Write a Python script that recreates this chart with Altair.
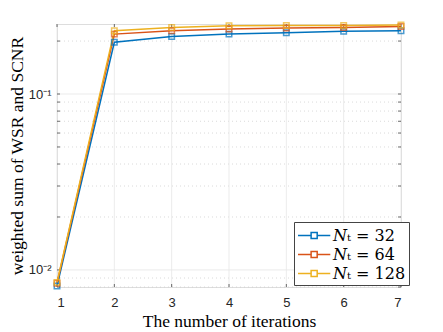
import altair as alt
import pandas as pd

iterations = [1, 2, 3, 4, 5, 6, 7]
series_names = ["𝑁ₜ = 32", "𝑁ₜ = 64", "𝑁ₜ = 128"]
nt32 = [0.0081, 0.197, 0.212, 0.219, 0.223, 0.227, 0.229]
nt64 = [0.0084, 0.219, 0.229, 0.234, 0.237, 0.239, 0.242]
nt128 = [0.0085, 0.229, 0.239, 0.244, 0.245, 0.245, 0.247]
colors = ["#0072BD", "#D95319", "#EDB120"]
minor_y = [0.008, 0.009, 0.02, 0.03, 0.04, 0.05, 0.06, 0.07, 0.08, 0.09, 0.2]
major_y = [0.01, 0.1]

rows = []
for name, vals in zip(series_names, [nt32, nt64, nt128]):
    for it, v in zip(iterations, vals):
        rows.append({"iter": it, "value": v, "series": name})
df = pd.DataFrame(rows)

W, H = 344, 263
xs = alt.Scale(domain=[1, 7], nice=False, zero=False)
ys = alt.Scale(type="log", domain=[0.008, 0.25], nice=False)
color = alt.Color("series:N", scale=alt.Scale(domain=series_names, range=colors),
                  legend=alt.Legend(
                      title=None, orient="none", legendX=237, legendY=198,
                      symbolType="M-1,0H0.38M1.02,0H2.4M0.38,-0.32H1.02V0.32H0.38Z",
                      symbolSize=361, symbolStrokeWidth=1.5, symbolFillColor="transparent",
                      labelFont="DejaVu Serif", labelFontSize=16, labelColor="#000",
                      strokeColor="#444", fillColor="white", padding=3,
                      rowPadding=0, labelOffset=15, cornerRadius=0))

minor_df = pd.DataFrame({"y": minor_y})
major_df = pd.DataFrame({"y": major_y})
xgrid_df = pd.DataFrame({"x": iterations})

minor_grid = alt.Chart(minor_df).mark_rule(color="#d0d0d0", strokeDash=[1, 3], strokeWidth=0.8).encode(
    y=alt.Y("y:Q", scale=ys))
major_grid = alt.Chart(major_df).mark_rule(color="#e6e6e6", strokeWidth=0.8).encode(
    y=alt.Y("y:Q", scale=ys))
x_grid = alt.Chart(xgrid_df).mark_rule(color="#e6e6e6", strokeWidth=0.8).encode(
    x=alt.X("x:Q", scale=xs))

# inward ticks
ytick_l = alt.Chart(pd.concat([minor_df, major_df])).mark_rule(color="#444", strokeWidth=0.8).encode(
    y=alt.Y("y:Q", scale=ys), x=alt.value(0), x2=alt.value(3))
ytick_r = alt.Chart(pd.concat([minor_df, major_df])).mark_rule(color="#444", strokeWidth=0.8).encode(
    y=alt.Y("y:Q", scale=ys), x=alt.value(W), x2=alt.value(W - 3))
xtick_b = alt.Chart(xgrid_df).mark_rule(color="#444", strokeWidth=0.8).encode(
    x=alt.X("x:Q", scale=xs), y=alt.value(H), y2=alt.value(H - 3))
xtick_t = alt.Chart(xgrid_df).mark_rule(color="#444", strokeWidth=0.8).encode(
    x=alt.X("x:Q", scale=xs), y=alt.value(0), y2=alt.value(3))

lines = alt.Chart(df).mark_line(strokeWidth=1.5).encode(
    x=alt.X("iter:Q", scale=xs,
            axis=alt.Axis(title="The number of iterations", values=iterations, format="d",
                          grid=False, domain=False, ticks=False, labelPadding=9,
                          titleFont="Liberation Serif", titleFontSize=17.5, titleFontWeight="normal",
                          titlePadding=3, labelFont="Liberation Sans", labelFontSize=13,
                          labelColor="#262626", titleColor="#000")),
    y=alt.Y("value:Q", scale=ys,
            axis=alt.Axis(title="weighted sum of WSR and SCNR", values=major_y,
                          labelExpr="datum.value < 0.05 ? '10⁻²' : '10⁻¹'",
                          grid=False, domain=False, ticks=False, labelPadding=6,
                          titleFont="Liberation Serif", titleFontSize=17.5, titleFontWeight="normal",
                          titlePadding=2, labelFont="Liberation Sans", labelFontSize=13,
                          labelColor="#262626", titleColor="#000")),
    color=color,
    order=alt.Order("iter:Q"),
)
points = alt.Chart(df).mark_point(shape="square", size=30, filled=False, strokeWidth=1.5).encode(
    x=alt.X("iter:Q", scale=xs),
    y=alt.Y("value:Q", scale=ys),
    color=alt.Color("series:N", scale=alt.Scale(domain=series_names, range=colors), legend=None),
)

chart = alt.layer(minor_grid, major_grid, x_grid, ytick_l, ytick_r, xtick_b, xtick_t, lines, points).properties(
    width=W, height=H,
    autosize=alt.AutoSizeParams(type="none"),
    padding={"left": 49, "top": 16, "right": 34, "bottom": 45},
).configure_view(stroke="#666", strokeWidth=1).configure(background="white")

chart.save("out.html", embed_options={"renderer": "svg", "actions": False})
